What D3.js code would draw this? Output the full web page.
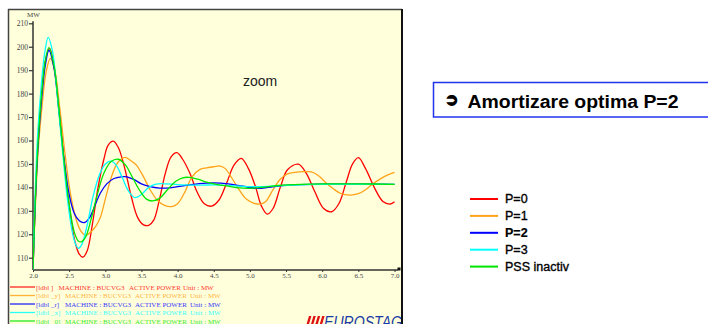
<!DOCTYPE html>
<html><head><meta charset="utf-8">
<script src="https://cdn.jsdelivr.net/npm/d3@7"></script>
<style>
html,body{margin:0;padding:0;background:#fff;}
svg{display:block;}
</style></head>
<body>
<svg id="c" width="708" height="324"></svg>
<script>
// ---------- data ----------
const xTicks = [2.0, 2.5, 3.0, 3.5, 4.0, 4.5, 5.0, 5.5, 6.0, 6.5, 7.0];
const yTicks = [110, 120, 130, 140, 150, 160, 170, 180, 190, 200, 210];
const seriesNames = ["P=0", "P=1", "P=2", "P=3", "PSS inactiv"];
const seriesColors = ["#ff0000", "#ffa31a", "#0000ff", "#00ffff", "#00e600"];
const plotLabels = ["[ldbl ]", "[ldbl _y]", "[ldbl _r]", "[ldbl _x]", "[ldbl _0]"];
const signalText = ["MACHINE : BUCVG3", "ACTIVE POWER", "Unit : MW"];

const p0 = [[2.00,105],[2.03,133],[2.07,160],[2.12,180],[2.17,194],[2.23,199.3],[2.30,190],[2.37,170],[2.44,148],[2.51,130],[2.58,117],[2.64,111.5],[2.69,110.2],[2.75,113],[2.82,124],[2.90,140],[2.98,152],[3.04,158],[3.11,159.7],[3.18,157],[3.27,148],[3.36,136],[3.45,127],[3.53,124],[3.60,123.8],[3.67,126],[3.75,135],[3.83,146],[3.91,153],[3.99,154.8],[4.07,152],[4.17,146],[4.27,138],[4.37,133],[4.47,132],[4.57,134.5],[4.68,142],[4.78,149.5],[4.88,152.4],[4.98,148],[5.08,140],[5.16,132],[5.24,128.6],[5.32,131],[5.42,140],[5.52,147.5],[5.67,149.9],[5.78,146],[5.90,138],[6.02,131],[6.13,129.6],[6.23,133],[6.33,142],[6.42,150],[6.50,152.7],[6.60,148],[6.72,140],[6.84,134],[6.94,132.9],[7.00,133.9]];
const p1 = [[2.00,105],[2.03,130],[2.07,155],[2.12,173],[2.18,189],[2.24,195],[2.30,190],[2.37,174],[2.44,155],[2.52,137],[2.60,126],[2.67,121],[2.73,119.5],[2.80,121],[2.87,123.5],[2.93,127],[3.00,135],[3.08,144],[3.17,150.5],[3.27,152.8],[3.35,151.5],[3.43,149.5],[3.52,145],[3.62,139],[3.72,134.5],[3.82,132.3],[3.92,131.8],[4.00,133],[4.10,138],[4.20,144.5],[4.31,147.7],[4.40,148.3],[4.50,148.8],[4.59,149.1],[4.66,148],[4.75,144],[4.85,139],[4.95,135],[5.05,133.3],[5.15,132.9],[5.22,134],[5.32,139],[5.42,143.5],[5.52,145.8],[5.62,146.4],[5.75,146.7],[5.85,146.6],[5.95,145],[6.05,142],[6.15,139.5],[6.25,137.5],[6.38,136.7],[6.50,137.3],[6.60,139],[6.70,141.5],[6.80,143.5],[6.90,145.2],[7.00,146.4]];
const p2 = [[2.00,105],[2.03,132],[2.07,158],[2.12,178],[2.17,192],[2.22,198.5],[2.29,191],[2.36,172],[2.43,152],[2.50,137],[2.57,129],[2.64,125.8],[2.71,125],[2.78,127],[2.86,132.5],[2.93,137.5],[3.02,141.5],[3.12,143.8],[3.22,144.5],[3.30,144.5],[3.40,143.3],[3.50,141.5],[3.62,140.3],[3.75,139.7],[3.85,139.7],[4.00,140.3],[4.15,141],[4.30,141.6],[4.50,141.9],[4.70,141.5],[4.90,140.5],[5.09,139.6],[5.25,140],[5.45,140.8],[5.70,141.2],[6.00,141.4],[6.50,141.4],[7.00,141.3]];
const p3 = [[2.00,105],[2.02,128],[2.06,160],[2.11,182],[2.16,197],[2.21,204],[2.27,198],[2.34,178],[2.41,155],[2.48,134],[2.55,120],[2.60,115],[2.63,114],[2.68,116],[2.75,124],[2.83,136],[2.92,145.5],[3.00,150],[3.08,151.2],[3.15,149.5],[3.23,144.5],[3.32,138.5],[3.41,135.6],[3.50,137],[3.60,140],[3.70,141.4],[3.85,141.5],[4.00,141.2],[4.30,141],[4.60,141],[5.00,140.3],[5.30,140.5],[5.60,141],[6.00,141.3],[6.50,141.3],[7.00,141.3]];
const pssOff = [[2.00,105],[2.03,133],[2.07,159],[2.12,180],[2.17,194],[2.22,199.6],[2.29,192],[2.36,173],[2.43,151],[2.50,133],[2.57,121],[2.63,117],[2.67,116.8],[2.73,119],[2.80,126],[2.89,137],[2.98,146],[3.08,151],[3.18,152],[3.28,149.5],[3.38,144],[3.48,138.5],[3.57,135],[3.65,134.2],[3.75,135.3],[3.86,139],[3.97,142.5],[4.06,144],[4.16,144.3],[4.28,143.5],[4.40,142.2],[4.55,141.2],[4.70,140.5],[4.85,139.8],[5.00,139.6],[5.20,140.1],[5.40,140.8],[5.70,141.3],[6.00,141.5],[6.50,141.5],[7.00,141.3]];
const allSeries = [p0, p1, p2, p3, pssOff];

// ---------- drawing ----------
const svg = d3.select("#c");
const panel = {x0: 8, y0: 9, x1: 402, y1: 324};

svg.append("rect").attr("x", panel.x0).attr("y", panel.y0)
  .attr("width", panel.x1 - panel.x0).attr("height", panel.y1 - panel.y0)
  .attr("fill", "#ffffdc");
svg.append("line").attr("x1", panel.x0).attr("x2", panel.x1).attr("y1", panel.y0 + 0.5).attr("y2", panel.y0 + 0.5)
  .attr("stroke", "#444").attr("stroke-width", 1.5);
svg.append("line").attr("x1", panel.x0 + 0.5).attr("x2", panel.x0 + 0.5).attr("y1", panel.y0).attr("y2", panel.y1)
  .attr("stroke", "#444").attr("stroke-width", 1.5);
svg.append("line").attr("x1", panel.x1).attr("x2", panel.x1).attr("y1", panel.y0).attr("y2", panel.y1)
  .attr("stroke", "#111").attr("stroke-width", 2);

const x = d3.scaleLinear().domain([2, 7]).range([33, 394.5]);
const y = d3.scaleLinear().domain([110, 210]).range([257.7, 23.3]);
const axisY = 270;

// clip
svg.append("clipPath").attr("id", "plotclip").append("rect")
  .attr("x", 33).attr("y", 15).attr("width", 364).attr("height", axisY - 15);

// Y axis
const gy = svg.append("g").attr("transform", "translate(33,0)")
  .call(d3.axisLeft(y).tickValues(yTicks).tickSize(4).tickPadding(1).tickFormat(d3.format("d")));
gy.select(".domain").remove();
gy.selectAll(".tick line").attr("stroke", "#333").attr("stroke-width", 1.2);
gy.selectAll(".tick text").attr("font-family", "'Liberation Serif', serif").attr("font-size", 7.5).attr("fill", "#444");
svg.append("line").attr("x1", 33).attr("x2", 33).attr("y1", y(210) - 2).attr("y2", axisY)
  .attr("stroke", "#333").attr("stroke-width", 1.5);
svg.append("text").attr("x", 33.5).attr("y", 16.5).attr("text-anchor", "middle")
  .attr("font-family", "'Liberation Serif', serif").attr("font-size", 7).attr("fill", "#444").text("MW");

// X axis
const gx = svg.append("g").attr("transform", `translate(0,${axisY})`)
  .call(d3.axisBottom(x).tickValues(xTicks).tickSize(2).tickPadding(1).tickFormat(d3.format(".1f")));
gx.select(".domain").remove();
gx.selectAll(".tick line").attr("stroke", "#333");
gx.selectAll(".tick text").attr("font-family", "'Liberation Serif', serif").attr("font-size", 7).attr("fill", "#444");
svg.append("line").attr("x1", 33).attr("x2", 398).attr("y1", axisY).attr("y2", axisY)
  .attr("stroke", "#333").attr("stroke-width", 1.5);
svg.append("rect").attr("x", 397.5).attr("y", axisY - 2.5).attr("width", 3).attr("height", 3).attr("fill", "#111");

// Curves
const line = d3.line().x(d => x(d[0])).y(d => y(d[1])).curve(d3.curveCatmullRom.alpha(0.5));
const gl = svg.append("g").attr("clip-path", "url(#plotclip)");
allSeries.forEach((s, i) => {
  gl.append("path").attr("d", line(s)).attr("fill", "none")
    .attr("stroke", seriesColors[i]).attr("stroke-width", 1.3).attr("stroke-linejoin", "round");
});

// "zoom" label
svg.append("text").attr("x", 243).attr("y", 85.5)
  .attr("font-family", "'Liberation Sans', Arial, sans-serif").attr("font-size", 14).attr("fill", "#222").text("zoom");

// bottom plot legend
const legY0 = 287, legDy = 8.5;
const partX = [[36, 58.5, 129, 183], [36, 65, 135, 190]];
plotLabels.forEach((lab, i) => {
  const yy = legY0 + i * legDy;
  svg.append("line").attr("x1", 10).attr("x2", 35).attr("y1", yy).attr("y2", yy)
    .attr("stroke", seriesColors[i]).attr("stroke-width", 1.3).attr("opacity", 0.85);
  const px = i === 0 ? partX[0] : partX[1];
  const t = svg.append("text").attr("y", yy + 2.5)
    .attr("font-family", "'Liberation Serif', serif").attr("font-size", 7)
    .attr("fill", seriesColors[i]).attr("opacity", 0.8);
  [lab].concat(signalText).forEach((s, k) => {
    t.append("tspan").attr("x", px[k]).text(s);
  });
});

// EUROSTAG logo
const logo = svg.append("g");
[0, 1, 2, 3].forEach(k => {
  const bx = 306 + k * 4.4;
  logo.append("path").attr("d", `M${bx + 3},316 L${bx + 5.4},316 L${bx + 2.4},326 L${bx},326 Z`).attr("fill", "#e01010");
});
logo.append("text").attr("x", 324).attr("y", 328).attr("font-family", "'Liberation Sans', Arial, sans-serif")
  .attr("font-style", "italic").attr("font-size", 16.5).attr("fill", "#1a3aa8").attr("textLength", 78)
  .attr("lengthAdjust", "spacingAndGlyphs").text("EUROSTAG");

// title box
svg.append("rect").attr("x", 433.5).attr("y", 82.5).attr("width", 290).attr("height", 34.5)
  .attr("fill", "#fff").attr("stroke", "#2233ee").attr("stroke-width", 1.5);
svg.append("text").attr("x", 445).attr("y", 104.5).attr("font-family", "'DejaVu Sans', sans-serif")
  .attr("font-weight", "bold").attr("font-size", 16).attr("fill", "#000")
  .attr("stroke", "#000").attr("stroke-width", 1.3).text("➲");
svg.append("text").attr("x", 467.5).attr("y", 107.5)
  .attr("font-family", "'Liberation Sans', Arial, sans-serif").attr("font-weight", "bold")
  .attr("font-size", 18).attr("fill", "#000").attr("textLength", 211).attr("lengthAdjust", "spacingAndGlyphs")
  .text("Amortizare optima P=2");

// right legend
const rl = svg.append("g");
seriesNames.forEach((nm, i) => {
  const yy = 199 + i * 16.9;
  rl.append("line").attr("x1", 470).attr("x2", 498).attr("y1", yy).attr("y2", yy)
    .attr("stroke", seriesColors[i]).attr("stroke-width", 2);
  rl.append("text").attr("x", 505).attr("y", yy + 4.4)
    .attr("font-family", "'Liberation Sans', Arial, sans-serif")
    .attr("font-weight", i === 2 ? "bold" : "normal")
    .attr("stroke", "#000").attr("stroke-width", i === 2 ? 0.2 : 0.35)
    .attr("font-size", 12.5).attr("fill", "#000").text(nm);
});
</script>
</body></html>
